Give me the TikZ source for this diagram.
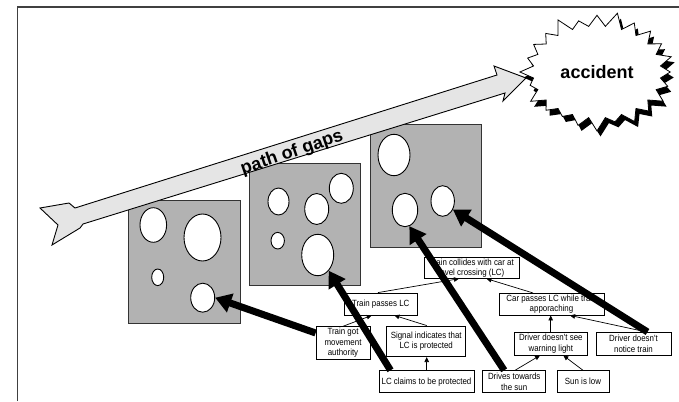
\documentclass[tikz,border=0pt]{standalone}
\usepackage{fontspec}
\setmainfont{Liberation Sans}
\newfontfamily\boxfont[FakeStretch=0.88]{Liberation Sans}
\usetikzlibrary{arrows.meta,shapes.geometric,shapes.symbols,shadows,calc}
\begin{document}
\begin{tikzpicture}[x=1pt,y=-1pt,
  slice/.style={fill=black!30, draw=black!80, line width=0.9pt},
  hole/.style={ellipse, draw=black, fill=white, line width=0.9pt, inner sep=0pt},
  box/.style={draw, line width=0.8pt, fill=white, inner sep=0pt, align=center, font=\boxfont\fontsize{9}{10.6}\selectfont},
  link/.style={line width=0.7pt, -{Triangle[length=5pt,width=4.5pt]}},
  gap/.style={line width=7pt, -{Triangle[length=16pt,width=19pt]}},
  big/.style={font=\fontsize{18}{20}\selectfont\bfseries}
]
\useasboundingbox (0,0) rectangle (679,401);
% frame
\draw[line width=1.2pt, black!75] (17.5,401) -- (17.5,7) -- (679,7);

% slice 1
\draw[slice] (128.5,200) rectangle (240.5,323);
\node[hole, minimum width=26.6pt, minimum height=34.6pt] (hA) at (153.3,225) {};
\node[hole, minimum width=37pt, minimum height=47pt] (hB) at (202.5,237.5) {};
\node[hole, minimum width=12pt, minimum height=16.6pt] (hC) at (157.7,277.3) {};
\node[hole, minimum width=24pt, minimum height=29pt] (hD) at (202.7,297.7) {};
% slice 2
\draw[slice] (249,163) rectangle (360.5,285.7);
\node[hole, minimum width=21pt, minimum height=27pt] (hE) at (278.5,201.5) {};
\node[hole, minimum width=24pt, minimum height=31pt] (hF) at (316.7,209) {};
\node[hole, minimum width=24pt, minimum height=30pt] (hG) at (341.3,188.3) {};
\node[hole, minimum width=13.4pt, minimum height=16.6pt] (hH) at (277.7,240.7) {};
\node[hole, minimum width=32pt, minimum height=41.4pt] (hI) at (317.7,255) {};
% slice 3
\draw[slice] (370,124.5) rectangle (481.3,247);
\node[hole, minimum width=32pt, minimum height=41.4pt] (hJ) at (394,155) {};
\node[hole, minimum width=25.4pt, minimum height=33.4pt] (hK) at (405,210) {};
\node[hole, minimum width=23.4pt, minimum height=30.6pt] (hL) at (442.7,201) {};

% path of gaps arrow
\draw[fill=black!10, line width=0.9pt, line join=miter]
  (40,208) -- (69,203) -- (75,208) -- (497,75) -- (494,66) -- (526,78)
  -- (503,101) -- (505,93) -- (83,224) -- (80,228) -- (52,245) -- (58,225) -- cycle;
\node[big, rotate=19, inner sep=0pt] (pog) at (292,153) {path of gaps};

% accident
\node[starburst, draw, fill=white, line width=0.8pt, starburst points=24,
  starburst point height=15pt, minimum width=158pt, minimum height=122pt,
  drop shadow={shadow xshift=3.5pt, shadow yshift=-5.5pt, fill=black, opacity=1},
  big] (acc) at (597,72) {accident};

% fault tree boxes
\node[box, minimum width=95pt, minimum height=20.6pt] (collides) at (471.5,268) {Train collides with car at\\level crossing (LC)};
\node[box, minimum width=72.7pt, minimum height=22pt] (trainpasses) at (380.7,304) {Train passes LC};
\node[box, minimum width=105pt, minimum height=21.7pt] (carpasses) at (551.5,304.2) {Car passes LC while train\\apporaching};
\node[box, minimum width=54pt, minimum height=32.6pt] (movement) at (343,343) {Train got\\movement\\authority};
\node[box, minimum width=79pt, minimum height=30.7pt] (signal) at (426.2,341.3) {Signal indicates that\\LC is protected};
\node[box, minimum width=73pt, minimum height=22.7pt] (seewarning) at (550.8,343.7) {Driver doesn't see\\warning light};
\node[box, minimum width=75pt, minimum height=22.7pt] (notice) at (633.5,343.7) {Driver doesn't\\notice train};
\node[box, minimum width=95pt, minimum height=22pt] (claims) at (426.5,381.7) {LC claims to be protected};
\node[box, minimum width=63pt, minimum height=22pt] (drives) at (514.2,381.7) {Drives towards\\the sun};
\node[box, minimum width=52pt, minimum height=22pt] (sunlow) at (583,381.7) {Sun is low};

% thin links
\draw[link] ([xshift=-2.7pt]trainpasses.north) -- ([xshift=-12.5pt]collides.south);
\draw[link] ([xshift=-18.5pt]carpasses.north) -- ([xshift=15pt]collides.south);
\draw[link] (movement.north) -- ([xshift=-9pt]trainpasses.south);
\draw[link] ([xshift=0.5pt]signal.north) -- ([xshift=13.6pt]trainpasses.south);
\draw[link] ([xshift=0.2pt]claims.north) -- ([xshift=0.5pt]signal.south);
\draw[link] ([xshift=-0.1pt]seewarning.north) -- ([xshift=-0.8pt]carpasses.south);
\draw[link] ([xshift=13pt]notice.north) -- ([xshift=18.5pt]carpasses.south);
\draw[link] ([xshift=0.8pt]drives.north) -- ([xshift=-10.8pt]seewarning.south);
\draw[link] (sunlow.north) -- ([xshift=12.5pt]seewarning.south);

% thick gap arrows
\draw[gap] ([yshift=10pt]movement.west) -- (hD.east);
\draw[gap] ([xshift=-36pt]claims.north) -- (hI.-55);
\draw[gap] ([xshift=-10pt]drives.north) -- (hK.-75);
\draw[gap] ([xshift=14pt]notice.north) -- (hL.-40);
\end{tikzpicture}
\end{document}
